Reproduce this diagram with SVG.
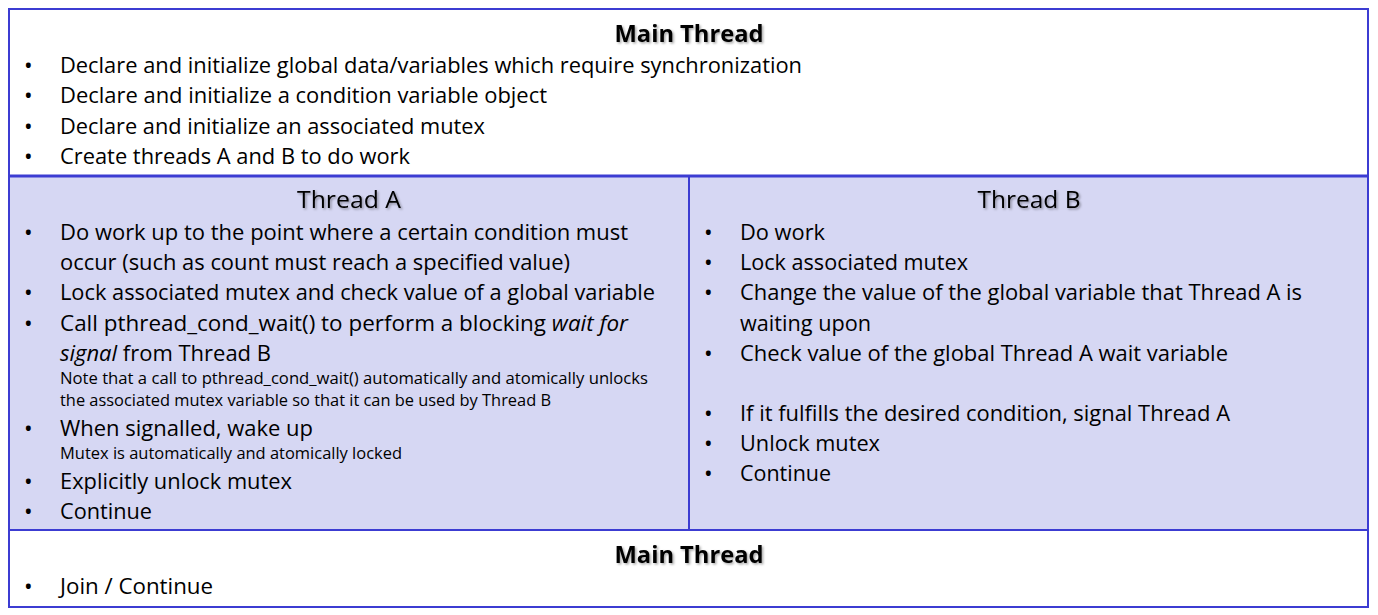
<svg xmlns="http://www.w3.org/2000/svg" width="1378" height="615" viewBox="0 0 1378 615">
  <defs>
    <filter id="shadow" x="-10%" y="-30%" width="120%" height="160%">
      <feDropShadow dx="1.5" dy="1.5" stdDeviation="1" flood-color="#000" flood-opacity="0.35"/>
    </filter>
  </defs>
  <style>
    text { font-family: "Open Sans", "Liberation Sans", sans-serif; fill: #000; }
    .body { font-size: 21.5px; }
    .note { font-size: 16px; }
    .bullet { font-size: 23px; }
    .title { font-size: 23px; text-anchor: middle; filter: url(#shadow); }
    .bold { font-weight: bold; }
    .white { fill: #ffffff; }
    .band { fill: #d6d7f3; }
    .rule { stroke: #3c3cd2; stroke-width: 2; fill: none; }
    .heavy { stroke: #3c3cd2; stroke-width: 3; fill: none; }
  </style>

  <!-- panel backgrounds -->
  <rect x="9" y="9" width="1359" height="598" class="white"/>
  <rect x="9" y="176" width="1359" height="354" class="band"/>

  <!-- Main thread (setup) -->
  <g id="main-top">
    <text class="title bold" x="689" y="42" textLength="149" lengthAdjust="spacingAndGlyphs">Main Thread</text>
    <text class="bullet" x="24" y="74">•</text>
    <text class="body" x="60" y="73" textLength="742" lengthAdjust="spacingAndGlyphs">Declare and initialize global data/variables which require synchronization</text>
    <text class="bullet" x="24" y="104">•</text>
    <text class="body" x="60" y="103" textLength="487" lengthAdjust="spacingAndGlyphs">Declare and initialize a condition variable object</text>
    <text class="bullet" x="24" y="135">•</text>
    <text class="body" x="60" y="134" textLength="425" lengthAdjust="spacingAndGlyphs">Declare and initialize an associated mutex</text>
    <text class="bullet" x="24" y="165">•</text>
    <text class="body" x="60" y="164" textLength="350" lengthAdjust="spacingAndGlyphs">Create threads A and B to do work</text>
  </g>

  <!-- Thread A -->
  <g id="thread-a">
    <text class="title" x="349" y="208" textLength="104" lengthAdjust="spacingAndGlyphs">Thread A</text>
    <text class="bullet" x="24" y="241">•</text>
    <text class="body" x="60" y="240" textLength="568" lengthAdjust="spacingAndGlyphs">Do work up to the point where a certain condition must</text>
    <text class="body" x="60" y="270" textLength="510" lengthAdjust="spacingAndGlyphs">occur (such as count must reach a specified value)</text>
    <text class="bullet" x="24" y="301">•</text>
    <text class="body" x="60" y="300" textLength="595" lengthAdjust="spacingAndGlyphs">Lock associated mutex and check value of a global variable</text>
    <text class="bullet" x="24" y="332">•</text>
    <text class="body" x="60" y="331" textLength="568" lengthAdjust="spacingAndGlyphs">Call pthread_cond_wait() to perform a blocking <tspan font-style="italic">wait for</tspan></text>
    <text class="body" x="60" y="361" textLength="211" lengthAdjust="spacingAndGlyphs"><tspan font-style="italic">signal</tspan> from Thread B</text>
    <text class="note" x="60" y="384" textLength="588" lengthAdjust="spacingAndGlyphs">Note that a call to pthread_cond_wait() automatically and atomically unlocks</text>
    <text class="note" x="60" y="406" textLength="491" lengthAdjust="spacingAndGlyphs">the associated mutex variable so that it can be used by Thread B</text>
    <text class="bullet" x="24" y="437">•</text>
    <text class="body" x="60" y="436" textLength="253" lengthAdjust="spacingAndGlyphs">When signalled, wake up</text>
    <text class="note" x="60" y="459" textLength="342" lengthAdjust="spacingAndGlyphs">Mutex is automatically and atomically locked</text>
    <text class="bullet" x="24" y="490">•</text>
    <text class="body" x="60" y="489" textLength="232" lengthAdjust="spacingAndGlyphs">Explicitly unlock mutex</text>
    <text class="bullet" x="24" y="520">•</text>
    <text class="body" x="60" y="519" textLength="92" lengthAdjust="spacingAndGlyphs">Continue</text>
  </g>

  <!-- Thread B -->
  <g id="thread-b">
    <text class="title" x="1029" y="208" textLength="103" lengthAdjust="spacingAndGlyphs">Thread B</text>
    <text class="bullet" x="704" y="241">•</text>
    <text class="body" x="740" y="240" textLength="85" lengthAdjust="spacingAndGlyphs">Do work</text>
    <text class="bullet" x="704" y="271">•</text>
    <text class="body" x="740" y="270" textLength="228" lengthAdjust="spacingAndGlyphs">Lock associated mutex</text>
    <text class="bullet" x="704" y="301">•</text>
    <text class="body" x="740" y="300" textLength="562" lengthAdjust="spacingAndGlyphs">Change the value of the global variable that Thread A is</text>
    <text class="body" x="740" y="331" textLength="131" lengthAdjust="spacingAndGlyphs">waiting upon</text>
    <text class="bullet" x="704" y="362">•</text>
    <text class="body" x="740" y="361" textLength="488" lengthAdjust="spacingAndGlyphs">Check value of the global Thread A wait variable</text>
    <text class="bullet" x="704" y="422">•</text>
    <text class="body" x="740" y="421" textLength="490" lengthAdjust="spacingAndGlyphs">If it fulfills the desired condition, signal Thread A</text>
    <text class="bullet" x="704" y="452">•</text>
    <text class="body" x="740" y="451" textLength="140" lengthAdjust="spacingAndGlyphs">Unlock mutex</text>
    <text class="bullet" x="704" y="482">•</text>
    <text class="body" x="740" y="481" textLength="91" lengthAdjust="spacingAndGlyphs">Continue</text>
  </g>

  <!-- Main thread (join) -->
  <g id="main-bottom">
    <text class="title bold" x="689" y="563" textLength="149" lengthAdjust="spacingAndGlyphs">Main Thread</text>
    <text class="bullet" x="24" y="595">•</text>
    <text class="body" x="60" y="594" textLength="153" lengthAdjust="spacingAndGlyphs">Join / Continue</text>
  </g>

  <!-- frame and dividers -->
  <g id="frame">
    <rect x="9" y="9" width="1359" height="598" class="rule"/>
    <line x1="9" y1="176" x2="1368" y2="176" class="heavy"/>
    <line x1="689" y1="176" x2="689" y2="530" class="rule"/>
    <line x1="9" y1="530" x2="1368" y2="530" class="rule"/>
  </g>
</svg>
